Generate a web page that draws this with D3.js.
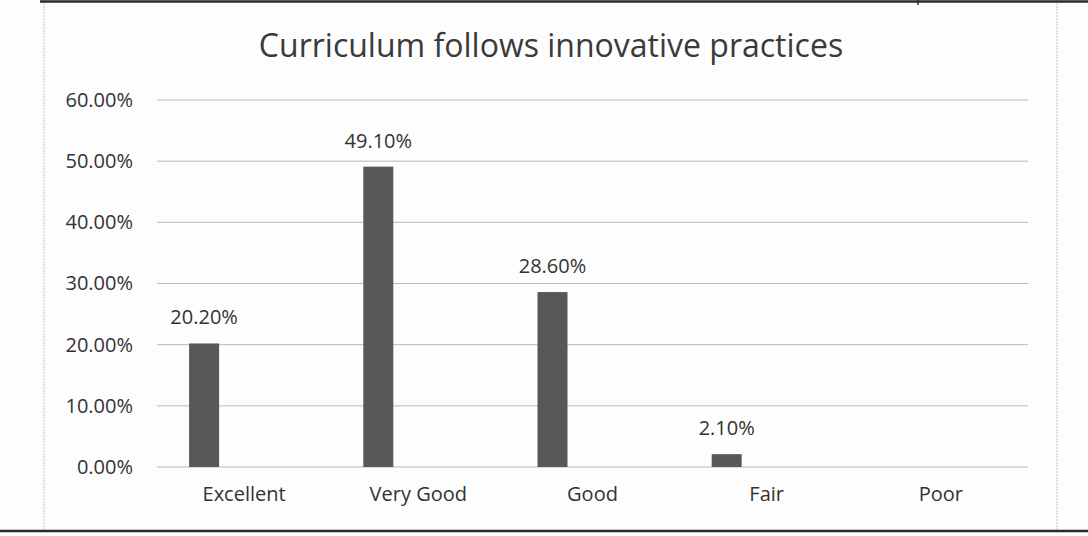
<!DOCTYPE html>
<html><head><meta charset="utf-8">
<script src="https://cdn.jsdelivr.net/npm/d3@7"></script>
<style>
html,body{margin:0;padding:0;background:#fdfdfd;}
svg{display:block;}
</style></head>
<body>
<svg id="c" width="1088" height="536"></svg>
<script>
const categories = ["Excellent", "Very Good", "Good", "Fair", "Poor"];
const values = [0.202, 0.491, 0.286, 0.021, null];
const yTicks = [0, 0.1, 0.2, 0.3, 0.4, 0.5, 0.6];
const title = "Curriculum follows innovative practices";

const svg = d3.select("#c");
const W = 1088, H = 536;
const plot = {left: 157, right: 1028, top: 100, bottom: 467};
const font = "'Open Sans', sans-serif";
const textColor = "#333";

// frame (scan page lines)
svg.append("rect").attr("width", W).attr("height", H).attr("fill", "#fdfdfd");
svg.append("line").attr("x1", 40).attr("x2", W).attr("y1", 1.5).attr("y2", 1.5)
  .attr("stroke", "#2a2a2a").attr("stroke-width", 2.5);
svg.append("line").attr("x1", 918).attr("x2", 918).attr("y1", 0).attr("y2", 5)
  .attr("stroke", "#2a2a2a").attr("stroke-width", 1.5);
svg.append("line").attr("x1", 0).attr("x2", W).attr("y1", 531).attr("y2", 531)
  .attr("stroke", "#2a2a2a").attr("stroke-width", 2.5);
[44, 1057].forEach(x => {
  svg.append("line").attr("x1", x).attr("x2", x).attr("y1", 3).attr("y2", 530)
    .attr("stroke", "#c4c4c4").attr("stroke-width", 1).attr("stroke-dasharray", "2,1");
});

const x = d3.scaleBand().domain(categories).range([plot.left, plot.right]).padding(0);
const y = d3.scaleLinear().domain([0, 0.6]).range([plot.bottom, plot.top]);
const fmt = d3.format(".2%");

// gridlines
svg.append("g").selectAll("line").data(yTicks).join("line")
  .attr("x1", plot.left).attr("x2", plot.right)
  .attr("y1", d => y(d)).attr("y2", d => y(d))
  .attr("stroke", "#b9b9b9").attr("stroke-width", 1);

// y axis labels
const yAxis = d3.axisLeft(y).tickValues(yTicks).tickFormat(fmt).tickSize(0).tickPadding(0);
const gy = svg.append("g").attr("transform", "translate(133,0)").call(yAxis);
gy.select(".domain").remove();
gy.selectAll("text").attr("font-family", font).attr("font-size", 20).attr("fill", textColor);

// x axis labels
const xAxis = d3.axisBottom(x).tickSize(0).tickPadding(0);
const gx = svg.append("g").attr("transform", "translate(0,487)").call(xAxis);
gx.select(".domain").remove();
gx.selectAll("text").attr("font-family", font).attr("font-size", 20).attr("fill", textColor);

// bars (first series of a cluster, offset left of category centre)
const barW = 30, barOffset = -40;
const data = categories.map((c, i) => ({c, v: values[i]})).filter(d => d.v != null);
const bx = d => x(d.c) + x.bandwidth() / 2 + barOffset - barW / 2;
svg.append("g").selectAll("rect").data(data).join("rect")
  .attr("x", bx).attr("width", barW)
  .attr("y", d => y(d.v)).attr("height", d => y(0) - y(d.v))
  .attr("fill", "#585858");

// value labels
svg.append("g").selectAll("text").data(data).join("text")
  .attr("x", d => bx(d) + barW / 2).attr("y", d => y(d.v) - 19)
  .attr("text-anchor", "middle")
  .attr("font-family", font).attr("font-size", 20).attr("fill", textColor)
  .text(d => fmt(d.v));

// title
svg.append("text").attr("x", 551).attr("y", 57).attr("text-anchor", "middle")
  .attr("font-family", font).attr("font-size", 32).attr("fill", "#3a3a3a")
  .text(title);
</script>
</body></html>
